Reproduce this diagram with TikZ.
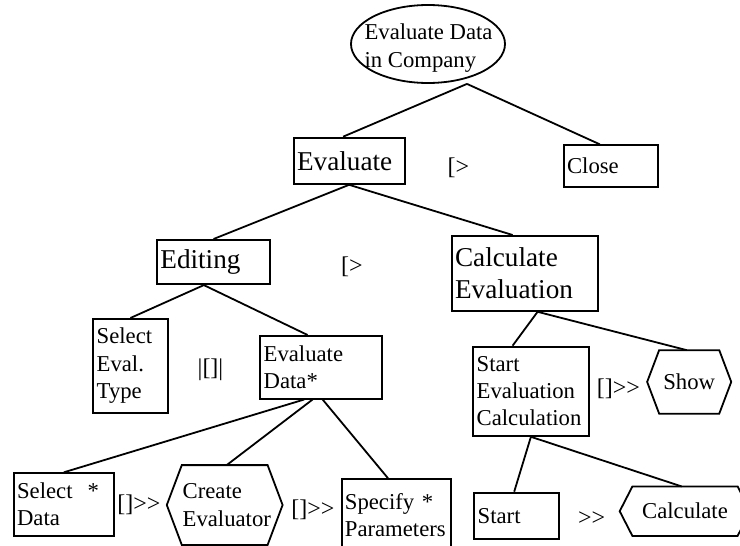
\documentclass[tikz,border=0pt]{standalone}
\usepackage{fontspec}
\setmainfont{Liberation Serif}[Ligatures=TeXOff]
\usetikzlibrary{shapes.geometric}
\begin{document}
\begin{tikzpicture}[x=1pt,y=-1pt,line width=1.8pt,
  fs/.style={font=\fontsize{22.7}{27.2}\selectfont},
  fl/.style={font=\fontsize{27.2}{31.6}\selectfont},
  fo/.style={font=\fontsize{24}{28}\selectfont},
  task/.style={draw, rectangle, anchor=north west, inner xsep=3.5pt, inner ysep=0pt, align=left},
  hexa/.style={rectangle, inner sep=0pt},
  op/.style={fo, inner sep=0pt},
]
\useasboundingbox (0,0) rectangle (740,546);
\clip (0,0) rectangle (740,546);

% root of the task tree: outline and its text
\node[draw, ellipse, minimum width=154pt, minimum height=78pt] (root) at (428,44) {};
\node[fs, align=left, inner sep=0pt] (roottext) at (428.5,48) {Evaluate Data\\in Company};

% rectangular tasks
\node[task, fl, text width=104pt,   minimum height=46.3pt] (eval)       at (292.7,136.7) {Evaluate};
\node[task, fs, text width=87.3pt,  minimum height=41.7pt] (close)      at (562.7,144.3) {Close};
\node[task, fl, text width=106.3pt, minimum height=44.3pt] (editing)    at (156,239)     {Editing};
\node[task, fl, text width=139.6pt, minimum height=75pt]   (calceval)   at (450.7,235)   {Calculate\\Evaluation};
\node[task, fs, text width=67.4pt,  minimum height=93.7pt] (selecttype) at (92.3,318)    {Select\\Eval.\\Type};
\node[task, fs, text width=114.4pt, minimum height=62.7pt] (evaldata)   at (259.3,335)   {Evaluate\\Data*};
\node[task, fs, text width=108.4pt, minimum height=89.3pt] (starteval)  at (472.3,345.7) {Start\\Evaluation\\Calculation};
\node[task, fs, text width=93.6pt,  minimum height=62.7pt] (selectdata) at (12.7,472.3)  {Select~~*\\Data};
\node[task, fs, text width=102.7pt, minimum height=72pt, inner xsep=3pt] (specify) at (341,478.3) {Specify *\\Parameters};
\node[task, fs, text width=78pt,    minimum height=46.6pt] (start)      at (473.3,491.7) {Start};

% hexagonal (interaction) tasks
\node[hexa, fs, align=center, minimum width=58.3pt, minimum height=61.7pt] (show) at (689.2,381.9) {Show};
\node[hexa, fs, align=left, text width=84pt, minimum height=78pt] (create) at (224.7,505) {Create\\Evaluator};
\node[hexa, fs, align=center, minimum width=103.4pt, minimum height=47.7pt] (calc) at (685,511.2) {Calculate};

\draw (show.north west) -- (show.north east) -- ([xshift=12pt]show.east) -- (show.south east)
      -- (show.south west) -- ([xshift=-12pt]show.west) -- cycle;
\draw (create.north west) -- (create.north east) -- ([xshift=15pt]create.east) -- (create.south east)
      -- (create.south west) -- ([xshift=-15pt]create.west) -- cycle;
\draw (calc.north west) -- (calc.north east) -- ([xshift=12.7pt]calc.east) -- (calc.south east)
      -- (calc.south west) -- ([xshift=-12.7pt]calc.west) -- cycle;

% temporal operators
\node[op] (op1) at (458.5,168)   {[>};
\node[op] (op2) at (352,266.7)   {[>};
\node[op] (op3) at (210.5,370)   {|[]|};
\node[op] (op4) at (618.3,388.3) {[]>>};
\node[op] (op5) at (138.8,505)   {[]>>};
\node[op] (op6) at (313,510)     {[]>>};
\node[op] (op7) at (591.7,518.3) {>>};

% tree edges
\draw ([xshift=39pt]root.south) -- ([xshift=-6pt]eval.north);
\draw ([xshift=39pt]root.south) -- ([xshift=-11pt]close.north);
\draw (eval.south) -- (editing.north);
\draw (eval.south) -- ([xshift=-12.3pt]calceval.north);
\draw ([xshift=-9.7pt]editing.south) -- (selecttype.north);
\draw ([xshift=-9.7pt]editing.south) -- ([xshift=-13.3pt]evaldata.north);
\draw ([xshift=12.7pt]calceval.south) -- ([xshift=-18.3pt]starteval.north);
\draw ([xshift=12.7pt]calceval.south) -- ([xshift=-2.5pt]show.north);
\draw (starteval.south) -- ([xshift=-2.5pt]start.north);
\draw (starteval.south) -- ([xshift=-3.3pt]calc.north);
\draw ([xshift=-16.7pt]evaldata.south) -- (selectdata.north);
\draw ([xshift=-8.3pt]evaldata.south) -- ([xshift=2pt]create.north);
\draw ([xshift=1.7pt]evaldata.south) -- ([xshift=-8.2pt]specify.north);
\end{tikzpicture}
\end{document}
